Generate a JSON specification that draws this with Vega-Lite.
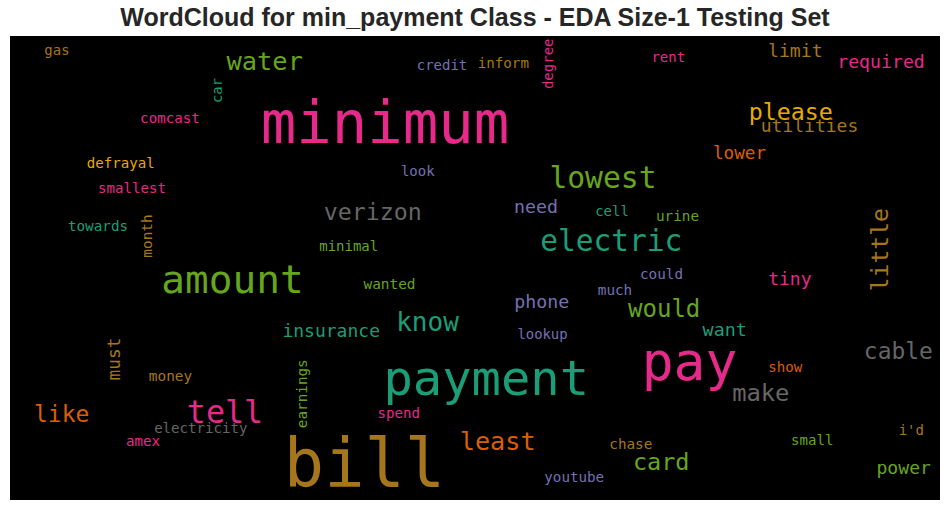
{
  "$schema": "https://vega.github.io/schema/vega-lite/v6.json",
  "width": 930,
  "height": 464,
  "autosize": {"type": "none"},
  "padding": {"left": 10, "top": 36, "right": 10, "bottom": 11},
  "background": "white",
  "config": {"view": {"fill": "black", "stroke": null}},
  "title": {"text": "WordCloud for min_payment Class - EDA Size-1 Testing Set", "fontSize": 25, "fontWeight": "bold", "font": "Liberation Sans", "color": "#262626", "anchor": "middle", "offset": 5},
  "data": {"values": [
    {"word": "gas", "x": 47, "y": 15, "freq": 14, "tone": "6", "orient": "h"},
    {"word": "water", "x": 254.7, "y": 25.5, "freq": 25.4, "tone": "4", "orient": "h"},
    {"word": "car", "x": 208, "y": 54.5, "freq": 13.8, "tone": "0", "orient": "v"},
    {"word": "comcast", "x": 160, "y": 83, "freq": 14.2, "tone": "3", "orient": "h"},
    {"word": "defrayal", "x": 110.7, "y": 128, "freq": 14.1, "tone": "5", "orient": "h"},
    {"word": "smallest", "x": 122, "y": 153, "freq": 14.1, "tone": "3", "orient": "h"},
    {"word": "towards", "x": 88, "y": 190.5, "freq": 14.3, "tone": "0", "orient": "h"},
    {"word": "month", "x": 138, "y": 200, "freq": 14.4, "tone": "6", "orient": "v"},
    {"word": "amount", "x": 222.5, "y": 245, "freq": 39.4, "tone": "4", "orient": "h"},
    {"word": "credit", "x": 432, "y": 30, "freq": 14, "tone": "2", "orient": "h"},
    {"word": "inform", "x": 493.3, "y": 28, "freq": 14.2, "tone": "6", "orient": "h"},
    {"word": "degree", "x": 539, "y": 27.8, "freq": 14, "tone": "3", "orient": "v"},
    {"word": "look", "x": 407.8, "y": 136, "freq": 14, "tone": "2", "orient": "h"},
    {"word": "lowest", "x": 593, "y": 143, "freq": 29.7, "tone": "4", "orient": "h"},
    {"word": "minimum", "x": 375, "y": 89, "freq": 59, "tone": "3", "orient": "h"},
    {"word": "rent", "x": 658.3, "y": 22, "freq": 14, "tone": "3", "orient": "h"},
    {"word": "limit", "x": 785.3, "y": 16, "freq": 18.1, "tone": "6", "orient": "h"},
    {"word": "required", "x": 871, "y": 26.8, "freq": 18.2, "tone": "3", "orient": "h"},
    {"word": "please", "x": 780.8, "y": 77, "freq": 23.3, "tone": "5", "orient": "h"},
    {"word": "utilities", "x": 799.5, "y": 91, "freq": 18, "tone": "6", "orient": "h"},
    {"word": "lower", "x": 729.5, "y": 118, "freq": 17.6, "tone": "1", "orient": "h"},
    {"word": "verizon", "x": 362.8, "y": 177, "freq": 23.3, "tone": "7", "orient": "h"},
    {"word": "minimal", "x": 338.7, "y": 211, "freq": 14, "tone": "4", "orient": "h"},
    {"word": "wanted", "x": 379.5, "y": 248.7, "freq": 14.4, "tone": "4", "orient": "h"},
    {"word": "know", "x": 417.5, "y": 286.5, "freq": 26, "tone": "0", "orient": "h"},
    {"word": "insurance", "x": 321.2, "y": 296, "freq": 18, "tone": "0", "orient": "h"},
    {"word": "need", "x": 526, "y": 172, "freq": 18.3, "tone": "2", "orient": "h"},
    {"word": "cell", "x": 602, "y": 176, "freq": 14, "tone": "0", "orient": "h"},
    {"word": "electric", "x": 601.3, "y": 206, "freq": 29.5, "tone": "0", "orient": "h"},
    {"word": "phone", "x": 531.7, "y": 266.5, "freq": 18.3, "tone": "2", "orient": "h"},
    {"word": "much", "x": 605, "y": 255, "freq": 14.3, "tone": "2", "orient": "h"},
    {"word": "lookup", "x": 532.5, "y": 299, "freq": 13.9, "tone": "2", "orient": "h"},
    {"word": "urine", "x": 667.5, "y": 181, "freq": 14.3, "tone": "4", "orient": "h"},
    {"word": "could", "x": 651.5, "y": 238.7, "freq": 14.3, "tone": "2", "orient": "h"},
    {"word": "tiny", "x": 779.8, "y": 243.5, "freq": 18, "tone": "3", "orient": "h"},
    {"word": "little", "x": 870.8, "y": 213.7, "freq": 23, "tone": "6", "orient": "v"},
    {"word": "would", "x": 654.2, "y": 274, "freq": 24, "tone": "4", "orient": "h"},
    {"word": "want", "x": 714.7, "y": 294, "freq": 18.4, "tone": "0", "orient": "h"},
    {"word": "must", "x": 104.7, "y": 323, "freq": 17.8, "tone": "6", "orient": "v"},
    {"word": "money", "x": 160.5, "y": 340.7, "freq": 14.4, "tone": "6", "orient": "h"},
    {"word": "like", "x": 51.7, "y": 378.7, "freq": 23, "tone": "1", "orient": "h"},
    {"word": "tell", "x": 215, "y": 377, "freq": 31.7, "tone": "3", "orient": "h"},
    {"word": "electricity", "x": 190.8, "y": 393, "freq": 14.1, "tone": "7", "orient": "h"},
    {"word": "amex", "x": 133, "y": 405.7, "freq": 14.1, "tone": "3", "orient": "h"},
    {"word": "earnings", "x": 293, "y": 357.7, "freq": 14.3, "tone": "4", "orient": "v"},
    {"word": "bill", "x": 354.5, "y": 431, "freq": 67, "tone": "6", "orient": "h"},
    {"word": "payment", "x": 476.3, "y": 344, "freq": 48.8, "tone": "0", "orient": "h"},
    {"word": "spend", "x": 388.8, "y": 378, "freq": 14.1, "tone": "3", "orient": "h"},
    {"word": "least", "x": 487.7, "y": 406.4, "freq": 25.2, "tone": "1", "orient": "h"},
    {"word": "chase", "x": 620.8, "y": 408.7, "freq": 14.3, "tone": "6", "orient": "h"},
    {"word": "youtube", "x": 564.2, "y": 442, "freq": 14.2, "tone": "2", "orient": "h"},
    {"word": "pay", "x": 679.5, "y": 328, "freq": 53, "tone": "3", "orient": "h"},
    {"word": "cable", "x": 888.3, "y": 315.7, "freq": 22.9, "tone": "7", "orient": "h"},
    {"word": "show", "x": 775.3, "y": 332, "freq": 14.1, "tone": "1", "orient": "h"},
    {"word": "make", "x": 750.8, "y": 358, "freq": 23.8, "tone": "7", "orient": "h"},
    {"word": "i'd", "x": 901.3, "y": 395, "freq": 14, "tone": "6", "orient": "h"},
    {"word": "small", "x": 802.2, "y": 404.8, "freq": 14.1, "tone": "4", "orient": "h"},
    {"word": "card", "x": 651.2, "y": 427, "freq": 23.5, "tone": "4", "orient": "h"},
    {"word": "power", "x": 893.7, "y": 432.7, "freq": 18.1, "tone": "4", "orient": "h"}
  ]},
  "mark": {"type": "text", "font": "DejaVu Sans Mono", "align": "center", "baseline": "middle"},
  "encoding": {
    "x": {"field": "x", "type": "quantitative", "scale": {"domain": [0, 930], "nice": false, "zero": false}, "axis": null},
    "y": {"field": "y", "type": "quantitative", "scale": {"domain": [0, 464], "nice": false, "zero": false, "reverse": true}, "axis": null},
    "text": {"field": "word", "type": "nominal"},
    "size": {"field": "freq", "type": "quantitative", "scale": {"type": "linear", "domain": [0, 100], "range": [0, 100]}, "legend": null},
    "color": {"field": "tone", "type": "nominal", "scale": {"domain": ["0", "1", "2", "3", "4", "5", "6", "7"], "scheme": "dark2"}, "legend": null},
    "angle": {"field": "orient", "type": "nominal", "scale": {"domain": ["h", "v"], "range": [0, 270]}, "legend": null}
  }
}
